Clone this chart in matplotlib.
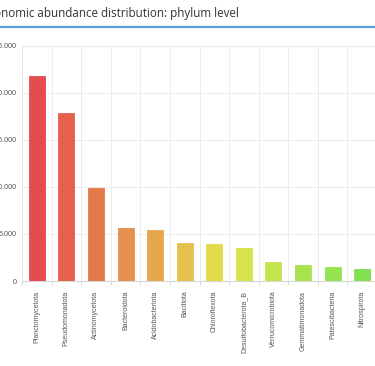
import numpy as np
import matplotlib
matplotlib.use("Agg")
import matplotlib.pyplot as plt
from matplotlib.ticker import FuncFormatter, FixedLocator

phyla = ["Planctomycetota", "Pseudomonadota", "Actinomycetota", "Bacteroidota",
         "Acidobacteriota", "Bacillota", "Chloroflexota", "Desulfobacterota_B",
         "Verrucomicrobiota", "Gemmatimonadota", "Patescibacteria", "Nitrospirota"]
abundance = [21850, 17850, 9870, 5600, 5400, 4020, 3900, 3510, 2020, 1680, 1460, 1240]
bar_colors = ["#e34d50", "#e5614b", "#e4794b", "#e5904e", "#e5a84e", "#e5c04d",
              "#e2d94b", "#d6e34b", "#c2e44c", "#a8e24e", "#95e350", "#82df50"]
y_ticks = [0, 5000, 10000, 15000, 20000, 25000]

W, H = 375, 366
fig = plt.figure(figsize=(W / 100, H / 100), dpi=100)

# title (cut off at the left like the screenshot) and blue rule under it
fig.text(239 / W, 1 - 13 / H, "Taxonomic abundance distribution: phylum level",
         ha="right", va="center", fontsize=8.4, color="#333333", family="Open Sans")
fig.add_artist(plt.Line2D([0, 1], [1 - 26.5 / H, 1 - 26.5 / H],
                          color="#5b9fd6", lw=1.6, transform=fig.transFigure))

# plot area runs past the right edge of the picture
left, right, top, bottom = 22, 377, 46, 281
ax = fig.add_axes([left / W, 1 - bottom / H, (right - left) / W, (bottom - top) / H])

x = np.arange(len(phyla))
ax.bar(x, abundance, width=0.54, color=bar_colors, edgecolor=bar_colors, lw=0.6, zorder=3)

ax.set_xlim(-0.5, len(phyla) - 0.5)
ax.set_ylim(0, 25000)
ax.set_yticks(y_ticks)
ax.yaxis.set_major_formatter(FuncFormatter(lambda v, p: f"{int(v):,}".replace(",", ".")))
ax.set_xticks(x)
ax.set_xticklabels(phyla, rotation=90)
ax.xaxis.set_minor_locator(FixedLocator(np.arange(len(phyla) + 1) - 0.5))

ax.grid(True, axis="y", color="#ececec", lw=0.7, zorder=0)
ax.grid(True, axis="x", which="minor", color="#ececec", lw=0.7, zorder=0)
ax.tick_params(axis="x", which="major", length=0, pad=7, labelsize=5.0, labelcolor="#555555")
ax.tick_params(axis="x", which="minor", length=3, color="#d8d8d8", width=0.7)
ax.tick_params(axis="y", length=0, pad=4, labelsize=5.2, labelcolor="#555555")
for lab in ax.get_xticklabels() + ax.get_yticklabels():
    lab.set_family("Liberation Sans")

for s in ["top", "right"]:
    ax.spines[s].set_visible(False)
ax.spines["left"].set_color("#e6e6e6")
ax.spines["bottom"].set_color("#d8d8d8")
ax.spines["left"].set_linewidth(0.7)
ax.spines["bottom"].set_linewidth(0.8)

fig.savefig("out.png", dpi=100)
